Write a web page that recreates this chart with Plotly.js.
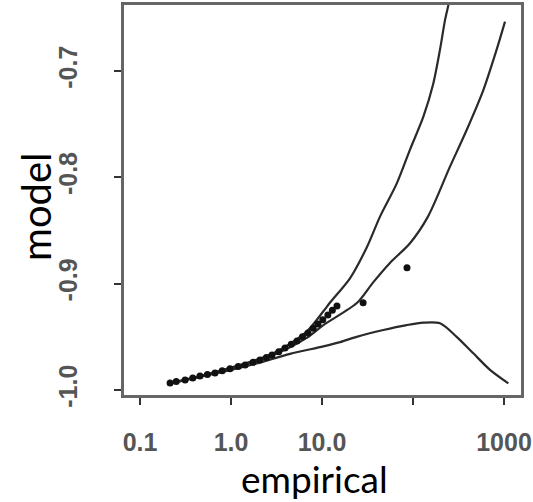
<!DOCTYPE html>
<html>
<head>
<meta charset="utf-8">
<script src="https://cdn.plot.ly/plotly-3.0.1.min.js"></script>
<style>html,body{margin:0;padding:0;background:#fff;overflow:hidden;}#chart{width:533px;height:502px;}</style>
</head>
<body>
<div id="chart"></div>
<script>
// Upper curve
var upperX = [0.214, 0.824, 2.92, 6.79, 10.35, 12.2, 20.3, 31.0, 43.4, 66.2, 92.7, 130, 167, 198, 225, 245, 262];
var upperY = [-0.9937, -0.981, -0.9655, -0.945, -0.926, -0.918, -0.895, -0.866, -0.837, -0.806, -0.774, -0.743, -0.712, -0.680, -0.652, -0.638, -0.625];
// Middle curve
var middleX = [0.214, 0.824, 2.92, 6.79, 10.35, 24.3, 36.3, 55.8, 92.7, 146, 255, 389, 593, 830, 1026];
var middleY = [-0.9937, -0.982, -0.967, -0.951, -0.939, -0.918, -0.899, -0.8805, -0.862, -0.837, -0.790, -0.7555, -0.718, -0.680, -0.6536];
// Lower curve
var lowerX = [0.214, 0.824, 1.91, 4.45, 10.35, 15.8, 24.0, 47.2, 85.1, 130, 198, 302, 460, 702, 1117];
var lowerY = [-0.9937, -0.9828, -0.975, -0.966, -0.959, -0.955, -0.950, -0.9436, -0.939, -0.9367, -0.9373, -0.950, -0.9655, -0.981, -0.9937];
// Points
var pointsX = [0.214, 0.25, 0.313, 0.38, 0.456, 0.55, 0.667, 0.8, 0.975, 1.2, 1.43, 1.75, 2.08, 2.45, 2.82, 3.35, 3.92, 4.6, 5.31, 6.1, 7.01, 8.0, 9.04, 10.2, 11.6, 13.0, 14.6, 28.3, 85.9];
var pointsY = [-0.9934, -0.992, -0.9906, -0.9888, -0.9868, -0.9855, -0.984, -0.982, -0.980, -0.978, -0.9765, -0.974, -0.9718, -0.9695, -0.967, -0.964, -0.9605, -0.957, -0.954, -0.950, -0.9464, -0.942, -0.938, -0.934, -0.9294, -0.925, -0.921, -0.918, -0.885];
// Tick labels
var xTickVals = [0.1, 1, 10, 100, 1000];
var xTickText = ["0.1", "1.0", "10.0", "", "1000"];
var yTickVals = [-1.0, -0.9, -0.8, -0.7];
var yTickText = ["-1.0", "-0.9", "-0.8", "-0.7"];

var lineStyle = {color: '#2a2a2a', width: 2.2, shape: 'spline', smoothing: 0.8};
var traces = [
  {x: upperX, y: upperY, mode: 'lines', line: lineStyle, type: 'scatter', hoverinfo: 'skip'},
  {x: middleX, y: middleY, mode: 'lines', line: lineStyle, type: 'scatter', hoverinfo: 'skip'},
  {x: lowerX, y: lowerY, mode: 'lines', line: lineStyle, type: 'scatter', hoverinfo: 'skip'},
  {x: pointsX, y: pointsY, mode: 'markers', marker: {color: '#111', size: 7}, type: 'scatter', hoverinfo: 'skip'}
];

var tickFont = {family: 'Liberation Sans, Arial, sans-serif', size: 25, color: '#555', weight: 'bold'};
var layout = {
  width: 533, height: 502,
  margin: {l: 124, r: 12, t: 5, b: 107},
  showlegend: false,
  paper_bgcolor: '#fff', plot_bgcolor: '#fff',
  xaxis: {
    type: 'log', range: [-1.176, 3.187],
    tickvals: xTickVals, ticktext: xTickText,
    ticks: 'outside', ticklen: 7, tickwidth: 2, tickcolor: '#333',
    showline: true, mirror: true, linecolor: '#666', linewidth: 3,
    showgrid: false, zeroline: false,
    tickfont: tickFont, ticklabelstandoff: 16, ticklabeloverflow: 'allow'
  },
  yaxis: {
    range: [-1.0047, -0.638],
    tickvals: yTickVals, ticktext: yTickText,
    ticks: 'outside', ticklen: 7, tickwidth: 2, tickcolor: '#333',
    showline: true, mirror: true, linecolor: '#666', linewidth: 3,
    showgrid: false, zeroline: false,
    tickangle: -90,
    tickfont: tickFont, ticklabelstandoff: 27
  },
  annotations: [
    {text: 'empirical', xref: 'paper', yref: 'paper', x: 0.481, y: -0.215, xanchor: 'center', yanchor: 'middle', showarrow: false, borderpad: 0,
     font: {family: 'Lato, sans-serif', size: 37, color: '#000'}},
    {text: 'model', xref: 'paper', yref: 'paper', x: -0.2217, y: 0.4846, xanchor: 'center', yanchor: 'middle', showarrow: false, textangle: -90, borderpad: 0,
     font: {family: 'Lato, sans-serif', size: 40, color: '#000'}}
  ]
};
Plotly.newPlot('chart', traces, layout, {staticPlot: true, displayModeBar: false});
</script>
</body>
</html>
